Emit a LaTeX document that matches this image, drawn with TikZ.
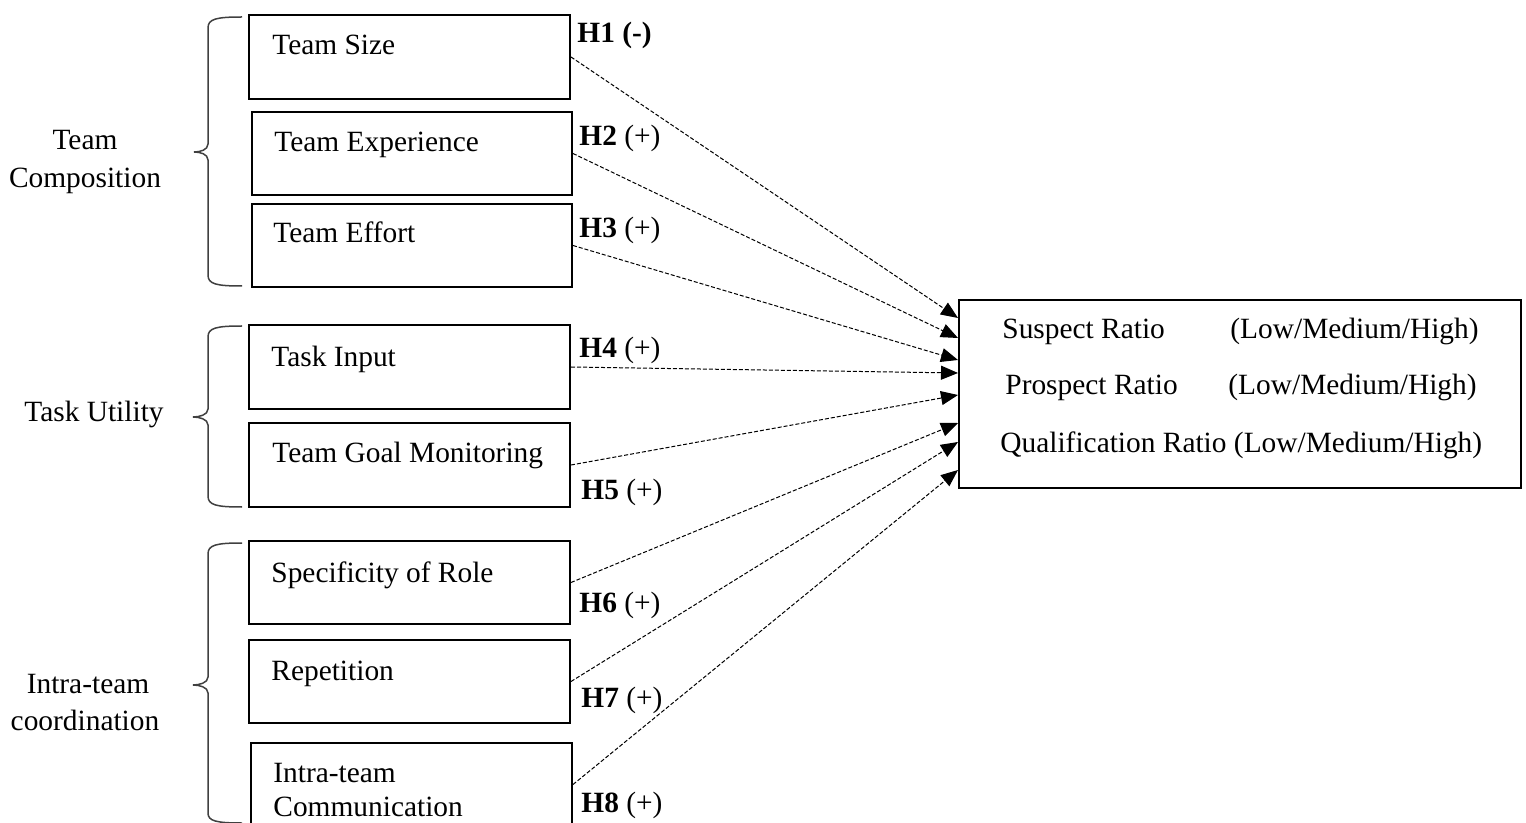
\documentclass[tikz,border=0pt]{standalone}
\usepackage{fontspec}
\setmainfont{Liberation Serif}
\usetikzlibrary{arrows.meta}
\begin{document}
\begin{tikzpicture}[x=0.5pt,y=-0.5pt,
  font=\fontsize{14.7pt}{17pt}\selectfont,
  box/.style={draw, line width=1pt, minimum width=160.5pt, minimum height=41.5pt, inner sep=0pt},
  txt/.style={anchor=base west, inner sep=0pt},
  grp/.style={anchor=base, inner sep=0pt},
  link/.style={dash pattern=on 2pt off 1pt, line width=0.5pt, -{Triangle[length=8.5pt,width=7pt]}},
  bracestyle/.style={line width=0.75pt, draw=black!75}]
\useasboundingbox (0,0) rectangle (1526,823);
\clip (0,0) rectangle (1526,823);

% left boxes
\node[box, minimum height=42pt] (ts)  at (409.5,57) {};
\node[box, minimum width=160pt] (te)  at (412,153.5) {};
\node[box, minimum width=160pt] (tef) at (412,245.5) {};
\node[box, minimum height=42pt] (ti)  at (409.5,367) {};
\node[box, minimum height=42pt] (tgm) at (409.5,465) {};
\node[box] (sr)  at (409.5,582.5) {};
\node[box] (rep) at (409.5,681.5) {};
\node[box] (itc) at (411.5,784.5) {};

% target box
\node[draw, line width=1pt, minimum width=281pt, minimum height=94pt, inner sep=0pt] (tgt) at (1240,394) {};

% box texts
\node[txt] (tsT)  at (272,55)  {Team Size};
\node[txt] (teT)  at (274,152) {Team Experience};
\node[txt] (tefT) at (273,243) {Team Effort};
\node[txt] (tiT)  at (271,367) {Task Input};
\node[txt] (tgmT) at (272,463) {Team Goal Monitoring};
\node[txt] (srT)  at (271,582) {Specificity of Role};
\node[txt] (repT) at (271,680) {Repetition};
\node[txt] (itcA) at (273,782) {Intra-team};
\node[txt] (itcB) at (273,816) {Communication};

% target texts
\node[txt] (s1) at (1002,339) {Suspect Ratio};
\node[txt] (s2) at (1230,339) {(Low/Medium/High)};
\node[txt] (p1) at (1005,395) {Prospect Ratio};
\node[txt] (p2) at (1228,395) {(Low/Medium/High)};
\node[txt] (q1) at (1000,452) {Qualification Ratio (Low/Medium/High)};

% group labels
\node[grp] (g1a) at (85,150) {Team};
\node[grp] (g1b) at (85,188) {Composition};
\node[grp] (g2)  at (94,422) {Task Utility};
\node[grp] (g3a) at (88,693) {Intra-team};
\node[grp] (g3b) at (85,730) {coordination};

% braces
\draw[bracestyle] (242,17) .. controls (216,17) and (208,19) .. (208,28) -- (208,144)
  .. controls (208,150) and (200,152) .. (194,152) .. controls (200,152) and (208,154) .. (208,160)
  -- (208,275) .. controls (208,284) and (216,286) .. (242,286);
\draw[bracestyle] (242,326) .. controls (216,326) and (208,328) .. (208,337) -- (208,409)
  .. controls (208,415) and (199,417) .. (193,417) .. controls (199,417) and (208,419) .. (208,425)
  -- (208,496) .. controls (208,505) and (216,507) .. (242,507);
\draw[bracestyle] (242,543) .. controls (216,543) and (208,545) .. (208,554) -- (208,677)
  .. controls (208,683) and (199,685) .. (193,685) .. controls (199,685) and (208,687) .. (208,693)
  -- (208,813) .. controls (208,821) and (216,823) .. (242,823);

% hypothesis labels
\node[txt] (h1) at (577,43)  {\textbf{H1 (-)}};
\node[txt] (h2) at (579,146) {\textbf{H2} (+)};
\node[txt] (h3) at (579,238) {\textbf{H3} (+)};
\node[txt] (h4) at (579,358) {\textbf{H4} (+)};
\node[txt] (h5) at (581,500) {\textbf{H5} (+)};
\node[txt] (h6) at (579,612) {\textbf{H6} (+)};
\node[txt] (h7) at (581,707) {\textbf{H7} (+)};
\node[txt] (h8) at (581,812) {\textbf{H8} (+)};

% connectors
\draw[link] (ts.east)  -- ([yshift=38pt]tgt.west);
\draw[link] (te.east)  -- ([yshift=28pt]tgt.west);
\draw[link] (tef.east) -- ([yshift=17pt]tgt.west);
\draw[link] (ti.east)  -- ([yshift=10.5pt]tgt.west);
\draw[link] (tgm.east) -- ([yshift=-0.5pt]tgt.west);
\draw[link] (sr.east)  -- ([yshift=-14.5pt]tgt.west);
\draw[link] (rep.east) -- ([yshift=-24pt]tgt.west);
\draw[link] (itc.east) -- ([yshift=-38pt]tgt.west);
\end{tikzpicture}
\end{document}
